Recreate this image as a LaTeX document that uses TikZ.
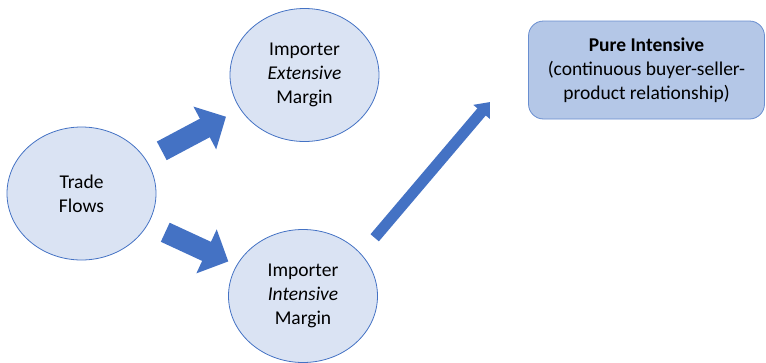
\documentclass[tikz,border=0pt]{standalone}
\usepackage{fontspec}
\setmainfont{Carlito}
\usetikzlibrary{arrows.meta,shapes.geometric}
\definecolor{lightfill}{HTML}{DAE3F3}
\definecolor{boxfill}{HTML}{B4C7E7}
\definecolor{accent}{HTML}{4472C4}

\begin{document}
\begin{tikzpicture}[x=1pt,y=-1pt,
  main node/.style={ellipse,draw=accent,fill=lightfill,line width=0.8pt,
    minimum width=149pt,minimum height=133pt,inner sep=0pt,align=center,
    font=\fontsize{19.5}{24}\selectfont},
  box node/.style={rectangle,rounded corners=15pt,draw=accent!80,fill=boxfill,
    line width=0.8pt,minimum width=236pt,minimum height=98pt,align=center,
    font=\fontsize{19.5}{24}\selectfont},
  fat arrow/.style={color=accent,line width=21pt,-{Triangle[length=24pt,width=47pt]}},
  thin arrow/.style={color=accent,line width=11pt,-{Triangle[length=13pt,width=21pt]}}]

  \useasboundingbox (0,0) rectangle (766,362);

  \node[main node] (trade) at (81.5,193.5) {Trade\\Flows};
  \node[main node] (ext) at (304.5,75) {Importer\\\textit{Extensive}\\Margin};
  \node[main node] (int) at (303,296) {Importer\\\textit{Intensive}\\Margin};
  \node[box node] (pure) at (646.5,70) {\textbf{Pure Intensive}\\(continuous buyer-seller-\\product relationship)};
  \coordinate (rise) at (490,102);

  \path
    (trade) edge[fat arrow,shorten <=18pt,shorten >=16pt] (ext)
    (trade) edge[fat arrow,shorten <=19pt,shorten >=9pt] (int)
    (int.36.6) edge[thin arrow,shorten <=21pt] (rise);
\end{tikzpicture}
\end{document}
